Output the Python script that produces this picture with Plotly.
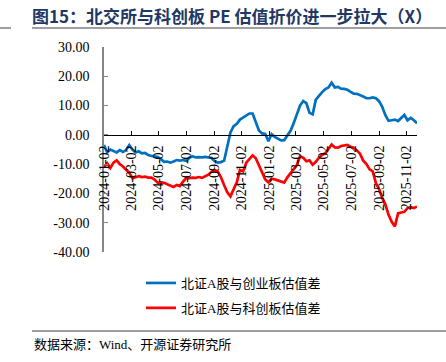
import pandas as pd
import plotly.graph_objects as go

# weekly observation dates
dates = pd.date_range("2024-01-02", periods=100, freq="7D")

blue_vals = [
    -3.5, -6, -5, -5.5, -6, -5.2, -5.8, -5.2, -3.5, -5,
    -6, -5.6, -6.3, -6.2, -6.9, -7.2, -7.3, -7.6, -8.3, -9.2,
    -9.1, -9.5, -9.1, -8.6, -8.8, -8.6, -8.9, -7.8, -7.3, -7.7,
    -7.6, -7.7, -7.5, -7.6, -7.9, -9, -9.5, -9.3, -8.8, -4,
    0.8, 3, 3.8, 5.2, 5.9, 6.4, 7.3, 7.3, 4.5, 1.5,
    0.5, 0.3, -2.2, 0.2, -0.7, -1.3, -1.9, -1.8, 0, 1.4,
    4, 7, 10, 11.5, 10.8, 7.5, 7, 12, 13.5, 14.6,
    15.6, 16.2, 17.8, 16.2, 16.4, 15.8, 15.7, 15.4, 14.7, 14.1,
    14, 13.6, 13.1, 12.5, 12.5, 12.8, 12.5, 11.5, 9.6, 6.7,
    4.8, 5, 5.2, 4.7, 5.8, 6.8, 5, 5.8, 5, 4,
]

red_vals = [
    -11, -9.7, -11.3, -9.5, -8.7, -10, -10.8, -11.8, -13, -14.8,
    -14.4, -14.1, -14.4, -14.3, -14.6, -14.6, -15.3, -16.4, -16.2, -16.4,
    -16.9, -17.4, -17.8, -17.1, -17.5, -16, -14.8, -14.8, -14.6, -14.7,
    -14.4, -14.7, -14.1, -13.6, -12.6, -12, -12.5, -14.5, -17.2, -19.6,
    -21, -18.7, -16.2, -12, -12.5, -9.5, -8.4, -7, -8, -10.3,
    -13.2, -15.2, -16.2, -15, -15.2, -15.5, -16, -16.3, -14.5, -13.2,
    -11.5, -10.3, -7.3, -7.8, -9, -8.7, -10.2, -9.2, -7.8, -6.8,
    -6.3, -5, -3.3, -4.3, -4.4, -3.8, -3.5, -3.4, -4.1, -4.4,
    -5.3, -6.5, -8.8, -10, -11.8, -12.5, -16.5, -18.5, -21.5, -23.8,
    -27.3, -29.7, -31.3, -26.8, -26.5, -26.3, -25, -24.7, -25, -24.5,
]

series_names = ["北证A股与创业板估值差", "北证A股与科创板估值差"]

x_ticks = ["2024-01-02", "2024-03-02", "2024-05-02", "2024-07-02", "2024-09-02",
           "2024-11-02", "2025-01-02", "2025-03-02", "2025-05-02", "2025-07-02",
           "2025-09-02", "2025-11-02"]
y_ticks = [30, 20, 10, 0, -10, -20, -30, -40]
y_tick_labels = ["30.00", "20.00", "10.00", "0.00", "-10.00", "-20.00", "-30.00", "-40.00"]

title_text = "图15：北交所与科创板 PE 估值折价进一步拉大（X）"
source_text = "数据来源：Wind、开源证券研究所"

W, H = 446, 362
L, R, T, B = 104, 29, 47, 110
pw, ph = W - L - R, H - T - B

def px_x(px):
    return (px - L) / pw

def px_y(py):
    return (H - B - py) / ph

serif = "Liberation Serif, Noto Sans CJK SC"

fig = go.Figure()
fig.add_trace(go.Scatter(x=dates, y=blue_vals, mode="lines", name=series_names[0],
                         line=dict(color="#0070C0", width=2.7), legendgroup="a"))
fig.add_trace(go.Scatter(x=dates, y=red_vals, mode="lines", name=series_names[1],
                         line=dict(color="#FF0000", width=2.7), legendgroup="b"))

fig.update_layout(
    width=W, height=H, autosize=False,
    margin=dict(l=L, r=R, t=T, b=B, autoexpand=False),
    paper_bgcolor="white", plot_bgcolor="white",
    font=dict(family=serif, size=14, color="#000000"),
    title=dict(text="<b>" + title_text + "</b>", x=32 / W, xanchor="left",
               xref="container", y=1 - 17 / H, yanchor="middle", yref="container",
               font=dict(family="Noto Sans CJK SC, Liberation Serif", size=17, color="#1F3864")),
    showlegend=True,
    legend=dict(xref="container", yref="container", x=141 / W, xanchor="left",
                y=1 - 268 / H, yanchor="top", font=dict(family=serif, size=13, color="#000"),
                tracegroupgap=5, bgcolor="rgba(0,0,0,0)", borderwidth=0),
    xaxis=dict(type="date", range=["2024-01-02", "2025-11-25"],
               tickvals=x_ticks, ticktext=x_ticks, tickangle=-90,
               anchor="free", position=40 / 70, automargin=False,
               showline=True, linecolor="#000000", linewidth=1,
               ticks="inside", ticklen=4, tickcolor="#000000",
               showgrid=False, zeroline=False, ticklabelstandoff=4,
               tickfont=dict(family=serif, size=14, color="#000")),
    yaxis=dict(range=[-40, 30], tickvals=y_ticks, ticktext=y_tick_labels,
               showline=True, linecolor="#868686", linewidth=1.5, automargin=False,
               ticks="inside", ticklen=4, tickcolor="#868686",
               showgrid=False, zeroline=False, ticklabelstandoff=10,
               tickfont=dict(family=serif, size=14, color="#000")),
    shapes=[
        dict(type="line", xref="paper", yref="paper", x0=px_x(0), x1=px_x(11),
             y0=px_y(28), y1=px_y(28), line=dict(color="#7F7F7F", width=1.5)),
        dict(type="line", xref="paper", yref="paper", x0=px_x(32), x1=px_x(446),
             y0=px_y(28), y1=px_y(28), line=dict(color="#7F7F7F", width=1.5)),
        dict(type="line", xref="paper", yref="paper", x0=px_x(32), x1=px_x(446),
             y0=px_y(331), y1=px_y(331), line=dict(color="#7F7F7F", width=1.5)),
    ],
    annotations=[
        dict(text=source_text, xref="paper", yref="paper", x=px_x(32), y=px_y(344),
             xanchor="left", yanchor="middle", showarrow=False,
             font=dict(family=serif, size=13, color="#000")),
    ],
)

fig.write_html("out.html", config={"displayModeBar": False},
               post_script="document.body.style.margin='0';document.body.style.padding='0';")
